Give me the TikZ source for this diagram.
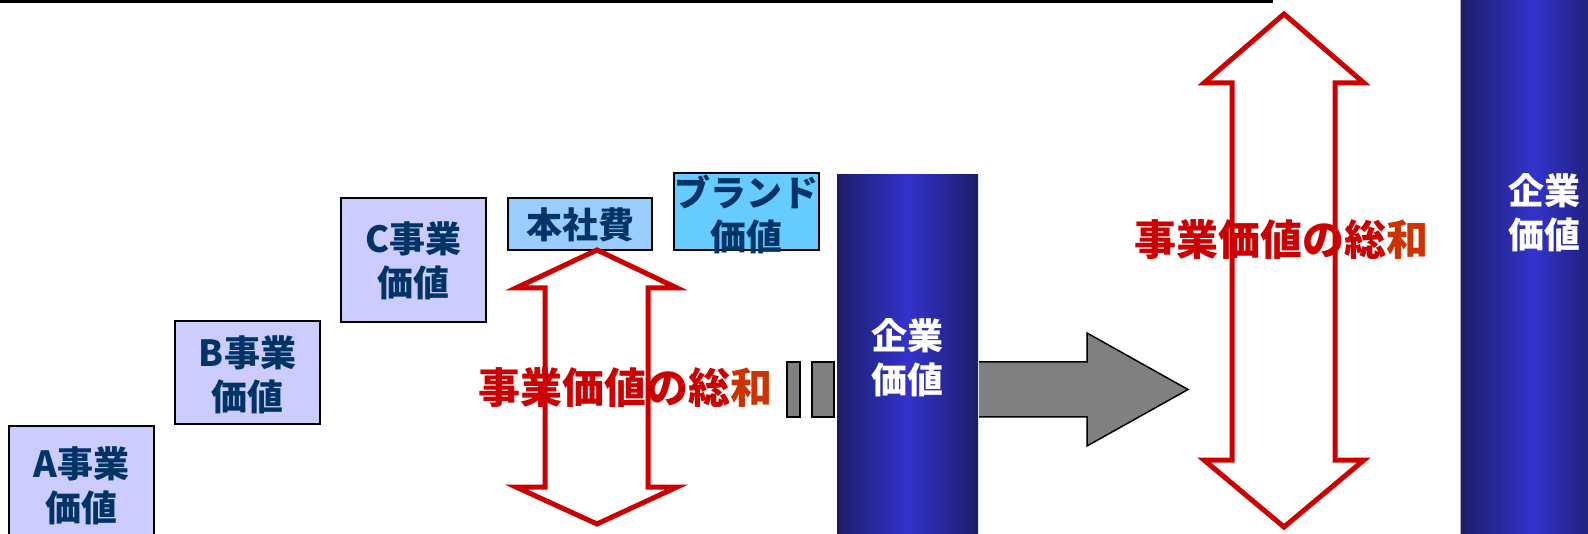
\documentclass[tikz,border=0pt]{standalone}
\usepackage{fontspec}
\newfontfamily\jp{Noto Sans CJK JP}
\definecolor{navy}{HTML}{003366}
\definecolor{lav}{HTML}{CCCCFF}
\definecolor{skyA}{HTML}{99CCFF}
\definecolor{skyB}{HTML}{66CCFF}
\definecolor{redC}{HTML}{CC0000}
\definecolor{orC}{HTML}{CC3300}
\definecolor{colDark}{HTML}{1C1C6A}
\definecolor{colBright}{HTML}{3333CC}
\definecolor{grayA}{HTML}{808080}
\begin{document}
\begin{tikzpicture}[x=1pt,y=-1pt,
  box/.style={draw=black,line width=2pt,inner sep=0pt},
  lbl/.style={font={\jp\bfseries\fontsize{36}{44}\selectfont},text=navy,align=center,inner sep=0pt},
  coltxt/.style={font={\jp\bfseries\fontsize{36}{44}\selectfont},text=white,align=center,inner sep=0pt},
  sumtxt/.style={font={\jp\bfseries\fontsize{42}{48}\selectfont},text=redC,inner sep=0pt},
  column/.style={inner sep=0pt,left color=colDark,right color=colDark,middle color=colBright},
  graybox/.style={draw=black,fill=grayA,line width=1.5pt,inner sep=0pt},
  redarrow/.style={draw=redC,line width=5pt,line join=miter},
  grayarrow/.style={draw=black,line width=1.5pt,line join=miter}]
\useasboundingbox (0,0) rectangle (1588,534);
\clip (0,0) rectangle (1588,534);
% top rule
\coordinate (ruleL) at (0,1.5);
\coordinate (ruleR) at (1273,1.5);
\draw[line width=3pt] (ruleL) -- (ruleR);
% business boxes
\node[box,fill=lav,minimum width=145,minimum height=140] (boxA) at (81.5,496) {};
\node[lbl] (txtA) at (81.5,486) {A事業\\価値};
\node[box,fill=lav,minimum width=145,minimum height=103] (boxB) at (247.5,372.5) {};
\node[lbl] (txtB) at (247.5,375) {B事業\\価値};
\node[box,fill=lav,minimum width=145,minimum height=124] (boxC) at (413.5,260) {};
\node[lbl] (txtC) at (413.5,261) {C事業\\価値};
\node[box,fill=skyA,minimum width=144,minimum height=52] (boxH) at (580,224) {};
\node[lbl] (txtH) at (580,225) {本社費};
\node[box,fill=skyB,minimum width=145,minimum height=77] (boxBr) at (746.5,211.5) {};
\node[lbl] (txtBr) at (746.5,214) {ブランド\\価値};
% small red double arrow
\draw[redarrow] (597,250) -- (677,288) -- (648,288) -- (648,487) -- (677,487) -- (597,524)
  -- (516,487) -- (545,487) -- (545,288) -- (516,288) -- cycle;
\node[sumtxt] (sumL) at (625,388) {事業価値の総\textcolor{orC}{和}};
% gray spacer bars
\node[graybox,minimum width=13,minimum height=55] (g1) at (793.5,389.5) {};
\node[graybox,minimum width=22,minimum height=55] (g2) at (823,389.5) {};
% middle column
\node[column,minimum width=141,minimum height=380] (colM) at (907.5,365) {};
\node[coltxt] (txtM) at (907.5,358) {企業\\価値};
% gray arrow
\fill[grayA] (979,362) -- (1087,362) -- (1087,333) -- (1188,389.5) -- (1087,446) -- (1087,417) -- (979,417) -- cycle;
\draw[grayarrow] (979,362) -- (1087,362) -- (1087,333) -- (1188,389.5) -- (1087,446) -- (1087,417) -- (979,417);
% big red double arrow
\draw[redarrow] (1284,14) -- (1364,83) -- (1335,83) -- (1335,460) -- (1364,460) -- (1284,527)
  -- (1204,460) -- (1232,460) -- (1232,83) -- (1204,83) -- cycle;
\node[sumtxt] (sumR) at (1281,240) {事業価値の総\textcolor{orC}{和}};
% right column
\node[column,minimum width=144,minimum height=560] (colR) at (1533,267) {};
\draw[gray!60,line width=1pt] (colR.north west) -- (colR.south west);
\node[coltxt] (txtR) at (1544,213) {企業\\価値};
\end{tikzpicture}
\end{document}
